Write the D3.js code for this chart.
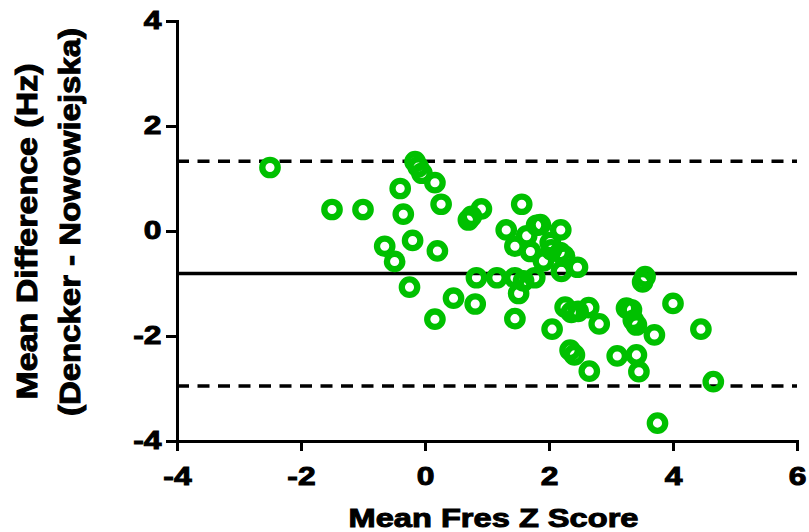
<!DOCTYPE html>
<html>
<head>
<meta charset="utf-8">
<script src="https://cdn.jsdelivr.net/npm/d3@7"></script>
<style>
  html, body { margin: 0; padding: 0; background: #fff; }
  svg { display: block; }
  text { font-family: "Liberation Sans", Arial, sans-serif; font-weight: bold; fill: #000; stroke: #000; stroke-width: 1px; }
</style>
</head>
<body>
<svg id="chart" width="809" height="532"></svg>
<script>
// ---- Data ----
const meanZ = [
  -2.50, -1.50, -1.00, -0.65, -0.49, -0.40, -0.35, -0.25, -0.20, -0.16,
  -0.11, -0.05, 0.16, 0.20, 0.26, 0.16, 0.46, 0.70, 0.75, 0.91,
  0.81, 0.83, 1.16, 1.31, 1.45, 1.45, 1.45, 1.51, 1.56, 1.59,
  1.64, 1.70, 1.77, 1.80, 1.86, 1.91, 2.02, 2.04, 2.05, 2.18,
  2.19, 2.20, 2.25, 2.26, 2.36, 2.34, 2.41, 2.46, 2.47, 2.64,
  2.65, 2.81, 3.10, 3.25, 3.33, 3.36, 3.41, 3.41, 3.45, 3.51,
  3.55, 3.70, 3.75, 4.00, 4.45, 4.65
];
const meanDiff = [
  1.21, 0.41, 0.41, -0.29, -0.58, 0.81, 0.32, -1.07, -0.18, 1.32,
  1.22, 1.10, 0.92, -0.38, 0.51, -1.68, -1.28, 0.21, 0.28, 0.42,
  -1.39, -0.89, -0.89, 0.02, -0.29, -0.89, -1.67, -1.19, 0.51, -0.95,
  -0.09, -0.39, -0.89, 0.11, 0.12, -0.57, -0.22, -0.36, -1.87, -0.41,
  0.02, -0.77, -0.48, -1.45, -1.55, -2.27, -2.36, -0.69, -1.53, -1.46,
  -2.67, -1.77, -2.38, -1.47, -1.50, -1.70, -1.79, -2.36, -2.68, -0.97,
  -0.87, -1.98, -3.66, -1.38, -1.87, -2.87
];
const biasLine = -0.81;
const limitLines = [1.33, -2.95];
const xTicks = [-4, -2, 0, 2, 4, 6];
const yTicks = [-4, -2, 0, 2, 4];
const xDomain = [-4, 6];
const yDomain = [-4, 4];
const xTitle = "Mean Fres Z Score";
const yTitle1 = "Mean Difference (Hz)";
const yTitle2 = "(Dencker - Nowowiejska)";

// ---- Layout ----
const svg = d3.select("#chart");
const x = d3.scaleLinear().domain(xDomain).range([177, 797]);
const y = d3.scaleLinear().domain(yDomain).range([441, 21]);
const green = "#00c000";
const stretch = 1.2;

// reference lines
const lines = svg.append("g");
lines.selectAll("line.limit").data(limitLines).join("line")
  .attr("class", "limit")
  .attr("x1", x(xDomain[0])).attr("x2", x(xDomain[1]))
  .attr("y1", d => y(d)).attr("y2", d => y(d))
  .attr("stroke", "#000").attr("stroke-width", 3.5)
  .attr("stroke-dasharray", "12,8.5");
lines.append("line")
  .attr("x1", x(xDomain[0])).attr("x2", x(xDomain[1]))
  .attr("y1", y(biasLine)).attr("y2", y(biasLine))
  .attr("stroke", "#000").attr("stroke-width", 3.5);

// axes
const xAxis = svg.append("g")
  .attr("transform", `translate(0,${y(yDomain[0])})`)
  .call(d3.axisBottom(x).tickValues(xTicks).tickSizeInner(10).tickSizeOuter(0));
const yAxis = svg.append("g")
  .attr("transform", `translate(${x(xDomain[0])},0)`)
  .call(d3.axisLeft(y).tickValues(yTicks).tickSizeInner(11).tickSizeOuter(0));

[xAxis, yAxis].forEach(g => {
  g.select(".domain").attr("stroke", "#000").attr("stroke-width", 3).attr("stroke-linecap", "square");
  g.selectAll(".tick line").attr("stroke", "#000").attr("stroke-width", 3);
  g.selectAll(".tick text")
    .style("font-family", '"Liberation Sans", Arial, sans-serif')
    .style("font-weight", "bold")
    .attr("font-size", 26.5)
    .attr("fill", "#000")
    .text(d => String(d));   // plain hyphen-minus like the reference
});

xAxis.selectAll(".tick text")
  .attr("y", 44).attr("dy", 0)
  .attr("transform", `scale(${stretch},1)`);
yAxis.selectAll(".tick text")
  .attr("x", -15.5 / stretch).attr("dy", 7.5)
  .attr("transform", `scale(${stretch},1)`);

// points (open rings)
svg.append("g").selectAll("circle")
  .data(d3.range(meanZ.length))
  .join("circle")
  .attr("cx", i => x(meanZ[i]))
  .attr("cy", i => y(meanDiff[i]))
  .attr("r", 7.7)
  .attr("fill", "none")
  .attr("stroke", green)
  .attr("stroke-width", 6.3);

// titles
svg.append("text")
  .attr("x", 493.5).attr("y", 527)
  .attr("text-anchor", "middle")
  .attr("font-size", 26.5)
  .attr("textLength", 290).attr("lengthAdjust", "spacingAndGlyphs")
  .text(xTitle);

svg.append("text")
  .attr("transform", "translate(37,231.5) rotate(-90)")
  .attr("text-anchor", "middle")
  .attr("font-size", 30)
  .attr("textLength", 336).attr("lengthAdjust", "spacingAndGlyphs")
  .text(yTitle1);

svg.append("text")
  .attr("transform", "translate(80,222) rotate(-90)")
  .attr("text-anchor", "middle")
  .attr("font-size", 30)
  .attr("textLength", 388).attr("lengthAdjust", "spacingAndGlyphs")
  .text(yTitle2);
</script>
</body>
</html>
